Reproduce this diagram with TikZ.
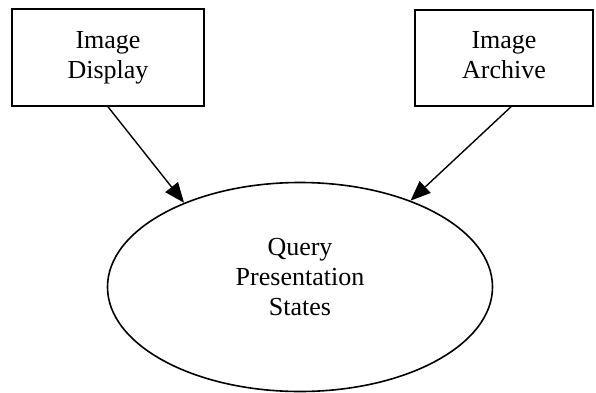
\documentclass[tikz,border=0pt]{standalone}
\usepackage{fontspec}
\setmainfont{Liberation Serif}
\usetikzlibrary{shapes.geometric,arrows.meta}
\begin{document}
\begin{tikzpicture}[x=1pt, y=1pt]
    \tikzset{
      box/.style={draw, line width=1.6pt, align=center, inner sep=0pt,
        font=\fontsize{26}{30}\selectfont},
      feed/.style={line width=1.4pt,
        arrows={-Triangle[length=20pt, width=16pt]}},
    }
    \useasboundingbox (0,0) rectangle (596,392);

    \path
    (108,334.5) node[box, minimum width=192pt, minimum height=97pt, text depth=6pt] (display) {Image\\Display}
    (504,334) node[box, minimum width=178pt, minimum height=96pt, text depth=6pt] (archive) {Image\\Archive}
    (300,105) node[box, ellipse, minimum width=385pt, minimum height=209pt,
      text depth=20pt] (query) {Query\\Presentation\\States};

    \foreach \src/\dx/\ang in {display/0/144,archive/7/38}
      \draw[feed] ([xshift=\dx pt]\src.south) -- (query.\ang);
  \end{tikzpicture}
\end{document}
